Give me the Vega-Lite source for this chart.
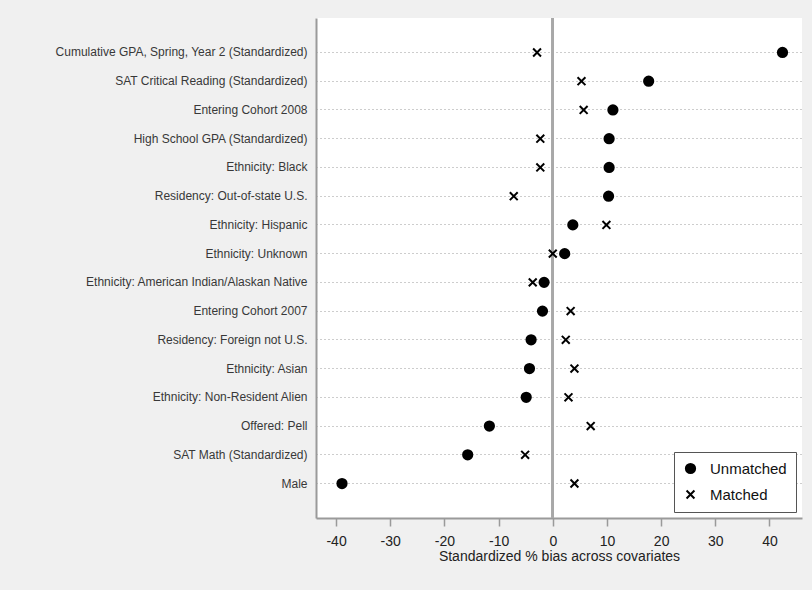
{
  "$schema": "https://vega.github.io/schema/vega-lite/v6.json",
  "width": 486,
  "height": 500,
  "autosize": {"type": "none"},
  "padding": {"left": 316, "top": 18, "right": 10, "bottom": 72},
  "background": "#f0f0f0",
  "config": {
    "font": "Liberation Sans",
    "view": {"fill": "white", "stroke": null}
  },
  "data": {
    "values": [
      {"covariate": "Cumulative GPA, Spring, Year 2 (Standardized)", "series": "Unmatched", "bias": 42.4},
      {"covariate": "Cumulative GPA, Spring, Year 2 (Standardized)", "series": "Matched", "bias": -2.9},
      {"covariate": "SAT Critical Reading (Standardized)", "series": "Unmatched", "bias": 17.7},
      {"covariate": "SAT Critical Reading (Standardized)", "series": "Matched", "bias": 5.3},
      {"covariate": "Entering Cohort 2008", "series": "Unmatched", "bias": 11.1},
      {"covariate": "Entering Cohort 2008", "series": "Matched", "bias": 5.7},
      {"covariate": "High School GPA (Standardized)", "series": "Unmatched", "bias": 10.4},
      {"covariate": "High School GPA (Standardized)", "series": "Matched", "bias": -2.3},
      {"covariate": "Ethnicity: Black", "series": "Unmatched", "bias": 10.4},
      {"covariate": "Ethnicity: Black", "series": "Matched", "bias": -2.3},
      {"covariate": "Residency: Out-of-state U.S.", "series": "Unmatched", "bias": 10.3},
      {"covariate": "Residency: Out-of-state U.S.", "series": "Matched", "bias": -7.2},
      {"covariate": "Ethnicity: Hispanic", "series": "Unmatched", "bias": 3.7},
      {"covariate": "Ethnicity: Hispanic", "series": "Matched", "bias": 9.9},
      {"covariate": "Ethnicity: Unknown", "series": "Unmatched", "bias": 2.2},
      {"covariate": "Ethnicity: Unknown", "series": "Matched", "bias": 0.0},
      {"covariate": "Ethnicity: American Indian/Alaskan Native", "series": "Unmatched", "bias": -1.6},
      {"covariate": "Ethnicity: American Indian/Alaskan Native", "series": "Matched", "bias": -3.7},
      {"covariate": "Entering Cohort 2007", "series": "Unmatched", "bias": -1.9},
      {"covariate": "Entering Cohort 2007", "series": "Matched", "bias": 3.3},
      {"covariate": "Residency: Foreign not U.S.", "series": "Unmatched", "bias": -4.0},
      {"covariate": "Residency: Foreign not U.S.", "series": "Matched", "bias": 2.4},
      {"covariate": "Ethnicity: Asian", "series": "Unmatched", "bias": -4.3},
      {"covariate": "Ethnicity: Asian", "series": "Matched", "bias": 4.0},
      {"covariate": "Ethnicity: Non-Resident Alien", "series": "Unmatched", "bias": -4.9},
      {"covariate": "Ethnicity: Non-Resident Alien", "series": "Matched", "bias": 2.9},
      {"covariate": "Offered: Pell", "series": "Unmatched", "bias": -11.7},
      {"covariate": "Offered: Pell", "series": "Matched", "bias": 7.0},
      {"covariate": "SAT Math (Standardized)", "series": "Unmatched", "bias": -15.7},
      {"covariate": "SAT Math (Standardized)", "series": "Matched", "bias": -5.1},
      {"covariate": "Male", "series": "Unmatched", "bias": -38.9},
      {"covariate": "Male", "series": "Matched", "bias": 4.0}
    ]
  },
  "layer": [
    {
      "mark": {"type": "rule", "color": "#a8a8a8", "strokeWidth": 2},
      "encoding": {"x": {"datum": 0, "type": "quantitative"}}
    },
    {
      "mark": {"type": "point", "stroke": "black", "strokeWidth": 2, "opacity": 1},
      "encoding": {
        "y": {
          "field": "covariate",
          "type": "nominal",
          "sort": null,
          "scale": {"type": "band", "paddingInner": 0, "paddingOuter": 0.7},
          "axis": {
            "title": null,
            "bandPosition": 0.5,
            "grid": true,
            "gridDash": [1, 3],
            "gridColor": "#9a9a9a",
            "gridWidth": 1,
            "ticks": false,
            "domainColor": "#9a9a9a",
            "domainWidth": 2,
            "labelFontSize": 12,
            "labelColor": "#383838",
            "labelPadding": 9,
            "labelLimit": 320
          }
        },
        "x": {
          "field": "bias",
          "type": "quantitative",
          "scale": {"domain": [-43.7, 46.0], "nice": false, "zero": false},
          "axis": {
            "title": "Standardized % bias across covariates",
            "values": [-40, -30, -20, -10, 0, 10, 20, 30, 40],
            "labelExpr": "datum.value < 0 ? '-' + abs(datum.value) : '' + datum.value",
            "grid": false,
            "domainColor": "#9a9a9a",
            "domainWidth": 2,
            "tickColor": "#9a9a9a",
            "tickWidth": 1.5,
            "tickSize": 8,
            "labelFontSize": 14,
            "labelColor": "#222222",
            "labelPadding": 8,
            "titleFontSize": 14,
            "titleFontWeight": "normal",
            "titleColor": "#222222",
            "titlePadding": 1
          }
        },
        "shape": {
          "field": "series",
          "type": "nominal",
          "scale": {"domain": ["Unmatched", "Matched"], "range": ["circle", "M-1,-1L1,1M1,-1L-1,1"]},
          "legend": {
            "title": null,
            "orient": "bottom-right",
            "offset": 6,
            "fillColor": "white",
            "strokeColor": "#555555",
            "padding": 9,
            "labelFontSize": 15,
            "labelColor": "#111111",
            "labelOffset": 12,
            "symbolStrokeWidth": 2,
            "symbolStrokeColor": "black",
            "rowPadding": 8
          }
        },
        "fill": {
          "field": "series",
          "type": "nominal",
          "scale": {"domain": ["Unmatched", "Matched"], "range": ["black", "transparent"]}
        },
        "size": {
          "field": "series",
          "type": "nominal",
          "scale": {"domain": ["Unmatched", "Matched"], "range": [85, 62]}
        }
      }
    }
  ]
}
